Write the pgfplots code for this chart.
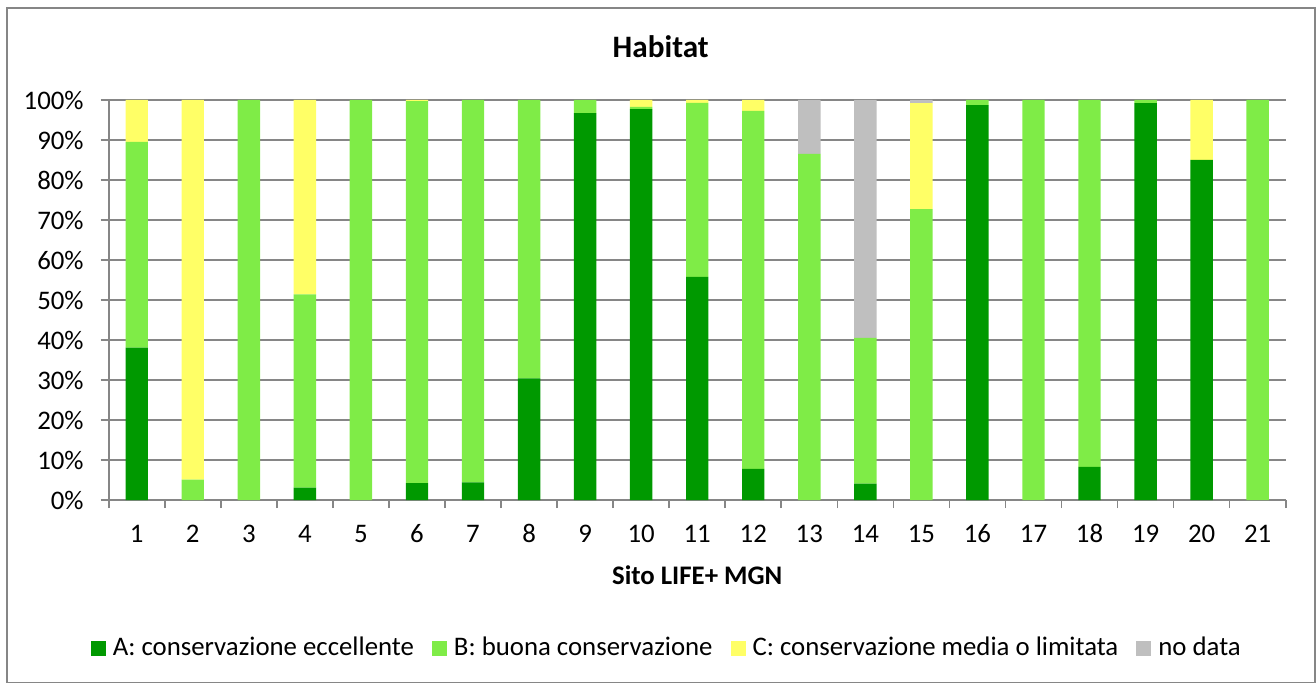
\documentclass[border=0pt]{standalone}
\usepackage{fontspec}
\setmainfont{Carlito}
\usepackage{pgfplots}
\pgfplotsset{compat=1.18}

\definecolor{consA}{RGB}{0,153,0}
\definecolor{consB}{RGB}{127,236,71}
\definecolor{consC}{RGB}{255,255,102}
\definecolor{nodata}{RGB}{191,191,191}
\definecolor{gridgray}{RGB}{134,134,134}
\definecolor{framegray}{RGB}{134,134,134}

\begin{document}
\begin{tikzpicture}[font=\fontsize{13.4}{16}\selectfont]
\useasboundingbox (-54.35pt,-92pt) rectangle (603.65pt,250pt);
\draw[framegray, line width=0.8pt] (-50.85pt,-91.3pt) rectangle (603.15pt,246pt);
\begin{axis}[
  at={(0,0)}, anchor=south west,
  scale only axis,
  width=588.5pt, height=200pt,
  ybar stacked,
  bar width=11.2pt,
  xmin=0.5, xmax=21.5,
  ymin=0, ymax=100,
  xtick={1,...,21},
  minor xtick={0.5,1.5,...,21.5},
  major x tick style={draw=none},
  minor tick length=4pt,
  ytick={0,10,...,100},
  major tick length=4pt,
  tick align=outside,
  axis x line*=bottom,
  axis y line*=left,
  axis line style={gridgray, line width=0.8pt},
  every tick/.style={gridgray, line width=0.8pt},
  ymajorgrids=true,
  grid style={gridgray, line width=0.8pt},
  yticklabel={\pgfmathprintnumber{\tick}\%},
  /pgf/number format/assume math mode=true,
  xticklabel style={anchor=base, yshift=-17pt},
  yticklabel style={xshift=-5pt},
  title={\fontsize{15.6}{18}\selectfont\bfseries Habitat},
  title style={at={(0.469,1)}, anchor=center, yshift=20.5pt},
  xlabel={\bfseries Sito LIFE+ MGN},
  xlabel style={at={(0.5,0)}, anchor=base, yshift=-42pt},
  legend style={at={(0.475,-0.37)}, anchor=center, draw=none,
    legend columns=-1,
    /tikz/every even column/.append style={column sep=7pt},
    /tikz/every odd column/.append style={column sep=1.5pt}},
  legend image code/.code={\fill[#1] (0pt,-3.75pt) rectangle (7.5pt,3.75pt);},
]
\addplot[fill=consA, draw=none] coordinates {
  (1,38.1) (2,0) (3,0) (4,3.1) (5,0) (6,4.2) (7,4.4) (8,30.4) (9,96.7) (10,97.7)
  (11,55.8) (12,7.8) (13,0) (14,4.1) (15,0) (16,98.7) (17,0) (18,8.3) (19,99.2)
  (20,85.0) (21,0)};
\addplot[fill=consB, draw=none] coordinates {
  (1,51.4) (2,5.1) (3,100) (4,48.3) (5,100) (6,95.5) (7,95.6) (8,69.6) (9,3.3) (10,0.6)
  (11,43.5) (12,89.5) (13,86.5) (14,36.4) (15,72.7) (16,1.3) (17,100) (18,91.7) (19,0.8)
  (20,0) (21,100)};
\addplot[fill=consC, draw=none] coordinates {
  (1,10.5) (2,94.9) (3,0) (4,48.6) (5,0) (6,0.3) (7,0) (8,0) (9,0) (10,1.7)
  (11,0.7) (12,2.7) (13,0) (14,0) (15,26.5) (16,0) (17,0) (18,0) (19,0)
  (20,15.0) (21,0)};
\addplot[fill=nodata, draw=none] coordinates {
  (1,0) (2,0) (3,0) (4,0) (5,0) (6,0) (7,0) (8,0) (9,0) (10,0)
  (11,0) (12,0) (13,13.5) (14,59.5) (15,0.8) (16,0) (17,0) (18,0) (19,0)
  (20,0) (21,0)};
\legend{A: conservazione eccellente, B: buona conservazione,
  C: conservazione media o limitata, no data}
\end{axis}
\end{tikzpicture}
\end{document}
